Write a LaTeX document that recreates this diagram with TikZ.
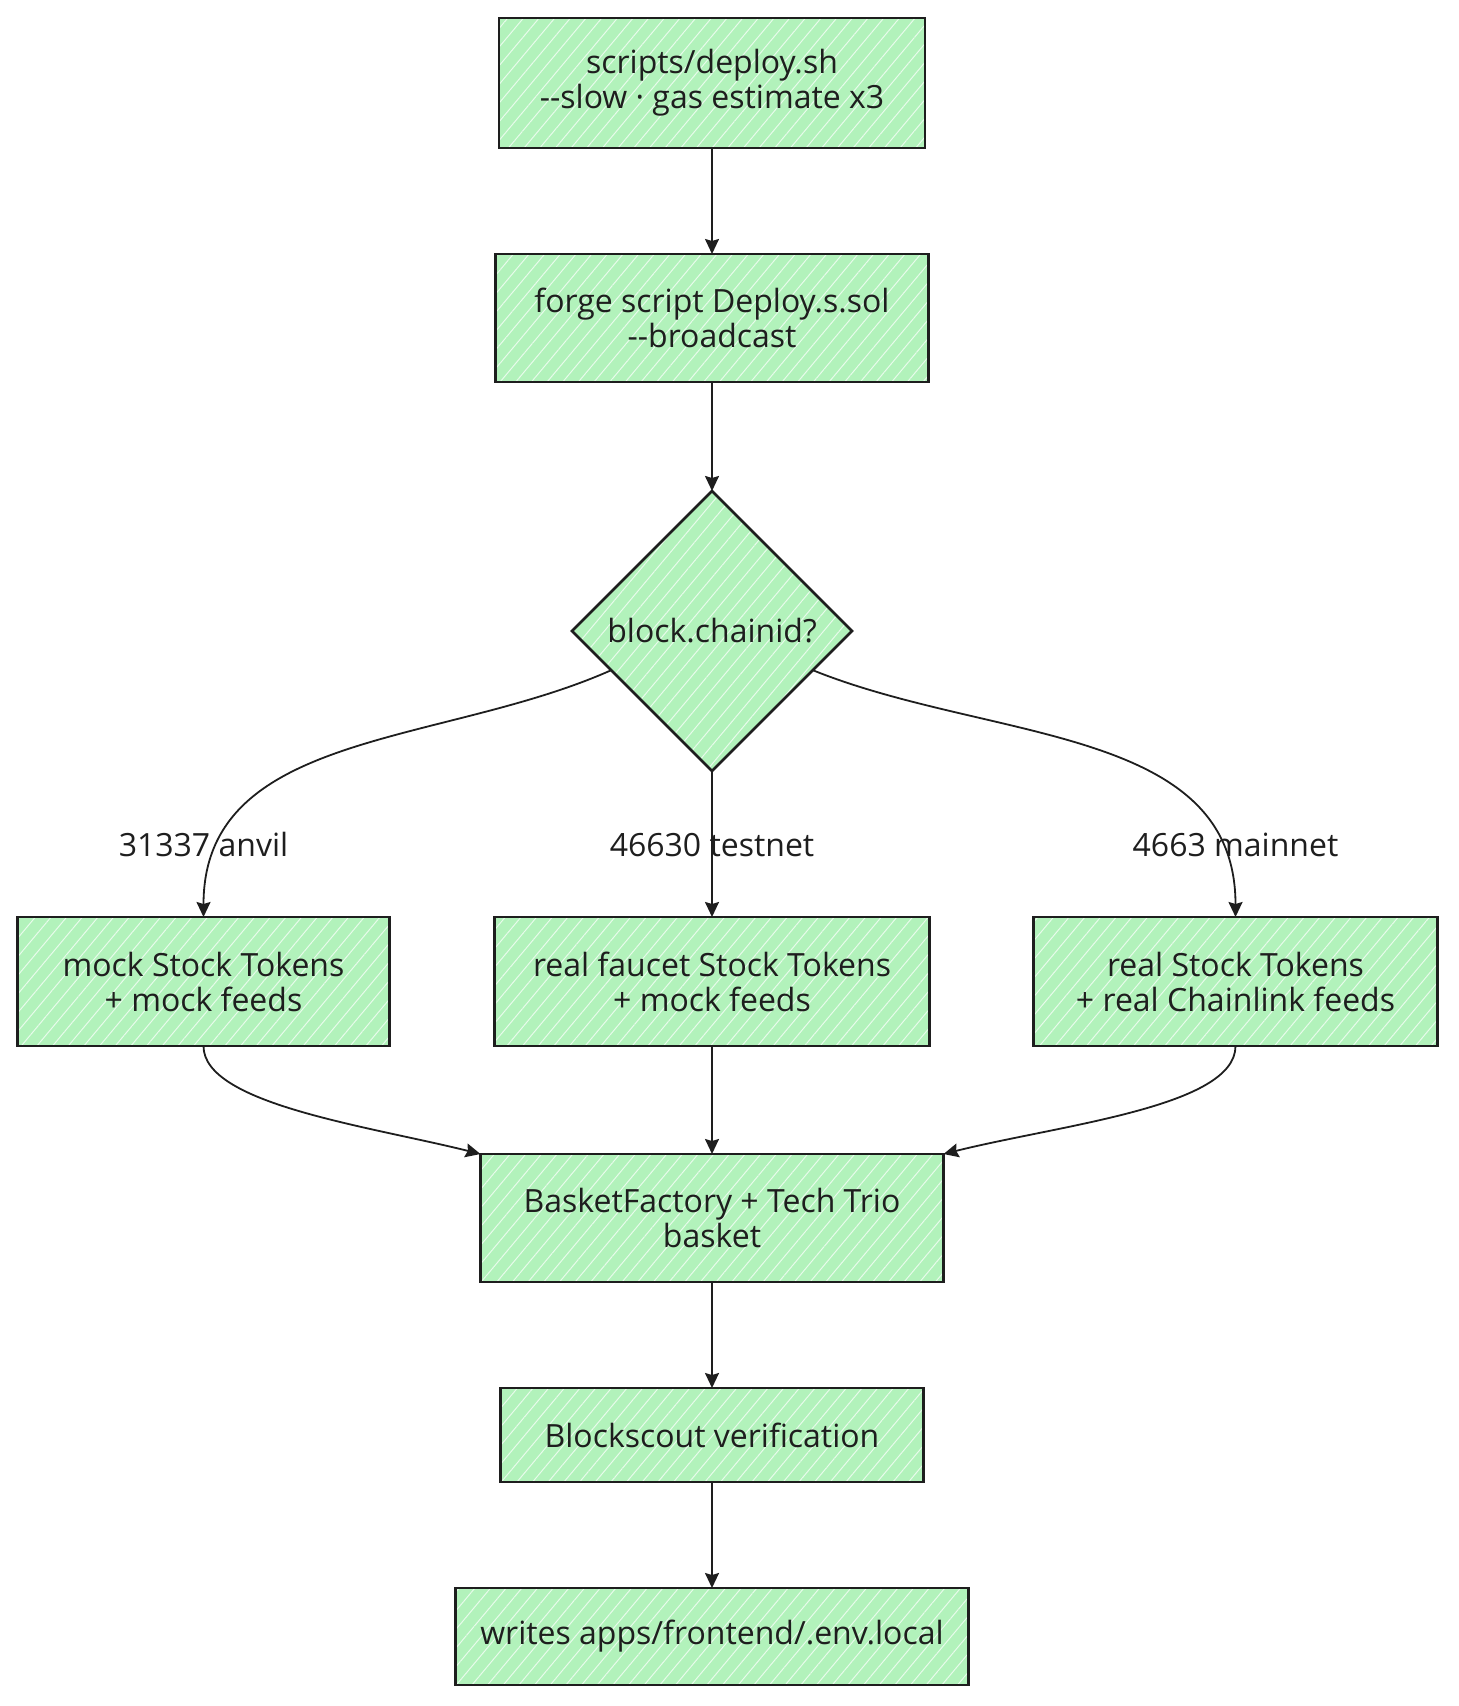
\documentclass[tikz,border=0pt]{standalone}
\usepackage{fontspec}
\setmainfont{Open Sans}
\usetikzlibrary{arrows.meta,positioning,shapes.geometric,calc,patterns.meta}
\definecolor{mint}{HTML}{B2F2BB}
\definecolor{ink}{HTML}{1E1E1E}
\tikzset{
    flowbox/.style={draw=ink, line width=1.4pt, preaction={fill=mint}, align=center, text=ink,
        font=\fontsize{16}{17.5}\selectfont, inner sep=0pt, outer sep=0pt,
        pattern={Lines[angle=50,distance=6pt,line width=0.5pt]}, pattern color=white!70!mint},
    flowarrow/.style={-{Stealth[length=7.5pt,width=7pt,inset=1pt]}, line width=0.9pt, draw=ink},
    edgelabel/.style={font=\fontsize{16}{17.5}\selectfont, text=ink, inner sep=0pt}
}

\begin{document}
\begin{tikzpicture}[x=0.5pt, y=0.5pt, node distance=53pt]
\useasboundingbox (0,0) rectangle (1458,-1706);
\node[flowbox, minimum width=213pt, minimum height=65pt] (deploy) at (712,-83) {scripts/deploy.sh\\-{}-slow · gas estimate x3};
\node[flowbox, below=of deploy, minimum width=216.5pt, minimum height=64pt] (forge) {forge script Deploy.s.sol\\-{}-broadcast};
\node[flowbox, diamond, below=54.5pt of forge, minimum width=140pt, minimum height=140pt] (chain) {block.chainid?};
\node[flowbox, below=73pt of chain, minimum width=217.5pt, minimum height=64.5pt] (testnet) {real faucet Stock Tokens\\+ mock feeds};
\node[flowbox, left=52.5pt of testnet, minimum width=186pt, minimum height=64.5pt] (anvil) {mock Stock Tokens\\+ mock feeds};
\node[flowbox, right=52pt of testnet, minimum width=202pt, minimum height=64.5pt] (mainnet) {real Stock Tokens\\+ real Chainlink feeds};
\node[flowbox, below=54pt of testnet, minimum width=231.5pt, minimum height=64pt] (basket) {BasketFactory + Tech Trio\\basket};
\node[flowbox, below=of basket, minimum width=211.5pt, minimum height=47pt] (verify) {Blockscout verification};
\node[flowbox, below=of verify, minimum width=256.5pt, minimum height=48.5pt] (envfile) {writes apps/frontend/.env.local};
% branch labels
\node[edgelabel, above=30pt of anvil] (anvillbl) {31337 anvil};
\node[edgelabel, above=30pt of testnet] (testnetlbl) {46630 testnet};
\node[edgelabel, above=30pt of mainnet] (mainnetlbl) {4663 mainnet};
\coordinate (chainl) at ($(chain.west)!0.28!(chain.south)$);
\coordinate (chainr) at ($(chain.east)!0.28!(chain.south)$);
\draw[flowarrow] (deploy) -- (forge);
\draw[flowarrow] (forge) -- (chain);
\draw[flowarrow] (chainl) to[out=204, in=90] (anvil.north);
\draw[flowarrow] (chain) -- (testnet);
\draw[flowarrow] (chainr) to[out=-22, in=90] (mainnet.north);
\draw[flowarrow] (anvil.south) to[out=-90, in=166, out looseness=0.5] (basket.north west);
\draw[flowarrow] (testnet) -- (basket);
\draw[flowarrow] (mainnet.south) to[out=-90, in=14, out looseness=0.5] (basket.north east);
\draw[flowarrow] (basket) -- (verify);
\draw[flowarrow] (verify) -- (envfile);
\end{tikzpicture}
\end{document}
